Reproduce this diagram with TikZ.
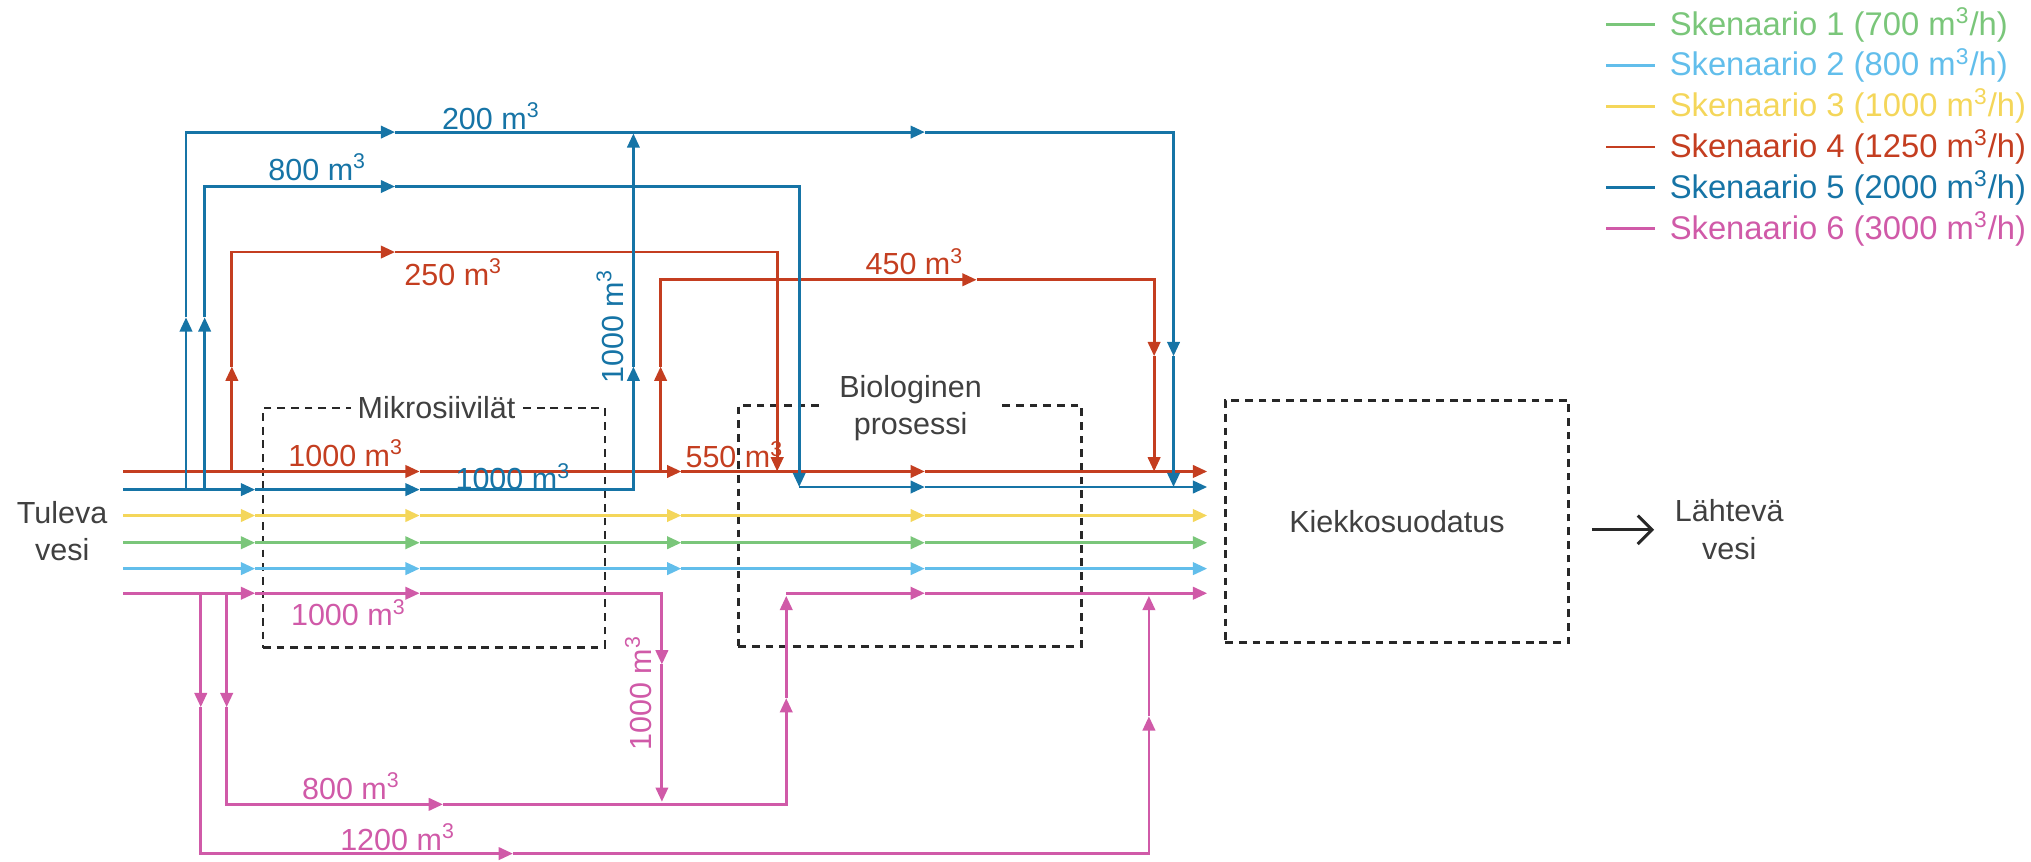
\documentclass[tikz,border=0pt]{standalone}
\usepackage{fontspec}
\setmainfont{Liberation Sans}
\usetikzlibrary{arrows.meta}

\definecolor{sk1}{RGB}{122,198,122}
\definecolor{sk2}{RGB}{98,190,235}
\definecolor{sk3}{RGB}{244,214,90}
\definecolor{sk4}{RGB}{196,62,32}
\definecolor{sk5}{RGB}{22,116,166}
\definecolor{sk6}{RGB}{208,90,168}
\definecolor{boxgray}{RGB}{40,40,40}
\definecolor{txtgray}{RGB}{64,64,64}
\newcommand\kuutio{m\textsuperscript{3}}

\begin{document}
\begin{tikzpicture}[x=0.02cm, y=-0.02cm, font=\fontsize{13.4}{16.5}\selectfont,
  fl/.style={line width=1.25pt, -{Triangle[length=2.2mm, width=1.9mm]}},
  bx/.style={draw=boxgray, line width=1.1pt, dash pattern=on 3.4pt off 2.6pt,
             inner sep=0pt},
  lab/.style={inner sep=1pt},
  ttl/.style={text=txtgray, align=center, inner sep=1pt},
  outar/.style={line width=1.3pt, boxgray, -{Straight Barb[length=2.2mm, width=4.4mm]}}]

\useasboundingbox (0,0) rectangle (1568,665);

\node[bx, minimum width=5.28cm, minimum height=3.7cm] (mikro) at (335,407.5) {};
\node[bx, minimum width=5.3cm, minimum height=3.72cm] (bio) at (702.5,406) {};
\node[bx, minimum width=5.3cm, minimum height=3.74cm, text=txtgray] (kiekko) at (1078.5,402.5) {Kiekkosuodatus};
\node[ttl] (tuleva) at (48,410) {Tuleva\\vesi};
\node[ttl] (lahteva) at (1335,409) {Lähtevä\\vesi};
\draw[outar, shorten <=0.34cm, shorten >=0.28cm] (kiekko.east |- lahteva) -- (lahteva);

% Skenaariot 1-3
\foreach \c/\y in {sk3/398, sk1/419, sk2/439}
  \foreach \a/\b in {95/197, 197/324, 324/526, 526/714, 714/932}
    \draw[fl, \c] (\a,\y) -- (\b,\y);

% Skenaario 4
\foreach \a/\b in {95/324, 324/526, 526/714, 714/932}
  \draw[fl, sk4] (\a,364) -- (\b,364);
\draw[fl, sk4] (179,364) -- (179,283);
\draw[fl, sk4] (179,283) -- (179,194.6) -- (305,194.6);
\draw[fl, sk4] (305,194.6) -- (600,194.6) -- (600,364);
\draw[fl, sk4] (510,364) -- (510,283);
\draw[fl, sk4] (510,283) -- (510,216) -- (754,216);
\draw[fl, sk4] (754,216) -- (891,216) -- (891,275);
\draw[fl, sk4] (891,275) -- (891,364);

% Skenaario 5
\foreach \a/\b in {95/197, 197/324}
  \draw[fl, sk5] (\a,378) -- (\b,378);
\draw[fl, sk5] (324,378) -- (489,378) -- (489,283);
\draw[fl, sk5] (489,283) -- (489,103);
\draw[fl, sk5] (143.6,378) -- (143.6,245);
\draw[fl, sk5] (143.6,245) -- (143.6,102) -- (305,102);
\draw[fl, sk5] (305,102) -- (714,102);
\draw[fl, sk5] (714,102) -- (906,102) -- (906,275);
\draw[fl, sk5] (906,275) -- (906,376);
\draw[fl, sk5] (158,378) -- (158,245);
\draw[fl, sk5] (158,245) -- (158,144) -- (305,144);
\draw[fl, sk5] (305,144) -- (617,144) -- (617,376);
\draw[fl, sk5] (617,376) -- (714,376);
\draw[fl, sk5] (714,376) -- (932,376);

% Skenaario 6
\foreach \a/\b in {95/197, 197/324}
  \draw[fl, sk6] (\a,458) -- (\b,458);
\draw[fl, sk6] (324,458) -- (511,458) -- (511,513);
\draw[fl, sk6] (511,513) -- (511,619);
\draw[fl, sk6] (155,458) -- (155,546);
\draw[fl, sk6] (155,546) -- (155,659) -- (396,659);
\draw[fl, sk6] (396,659) -- (887,659) -- (887,553);
\draw[fl, sk6] (887,553) -- (887,460);
\draw[fl, sk6] (175,458) -- (175,546);
\draw[fl, sk6] (175,546) -- (175,621) -- (342,621);
\draw[fl, sk6] (342,621) -- (607,621) -- (607,539);
\draw[fl, sk6] (607,539) -- (607,460);
\draw[fl, sk6] (607,458) -- (714,458);
\draw[fl, sk6] (714,458) -- (932,458);

\node[ttl, fill=white, inner xsep=3pt] (mikrot) at (337,315) {Mikrosiivilät};
\node[ttl, fill=white, inner xsep=0.25cm] (biot) at (703,315) {Biologinen\\prosessi};

\node[lab, text=sk5] (l200) at (379,90) {200 \kuutio};
\node[lab, text=sk5] (l800) at (245,129) {800 \kuutio};
\node[lab, text=sk4] (l250) at (350,210) {250 \kuutio};
\node[lab, text=sk4] (l450) at (706,202) {450 \kuutio};
\node[lab, text=sk5, rotate=90] (l1000v) at (471,252) {1000 \kuutio};
\node[lab, text=sk4] (l1000r) at (267,350) {1000 \kuutio};
\node[lab, text=sk5] (l1000b) at (396,368) {1000 \kuutio};
\node[lab, text=sk4] (l550) at (567,351) {550 \kuutio};
\node[lab, text=sk6] (l1000p) at (269,473) {1000 \kuutio};
\node[lab, text=sk6, rotate=90] (l1000pv) at (493,535) {1000 \kuutio};
\node[lab, text=sk6] (l800p) at (271,607) {800 \kuutio};
\node[lab, text=sk6] (l1200p) at (307,646) {1200 \kuutio};

\foreach \c/\t [count=\i] in {sk1/{Skenaario 1 (700 \kuutio/h)}, sk2/{Skenaario 2 (800 \kuutio/h)},
    sk3/{Skenaario 3 (1000 \kuutio/h)}, sk4/{Skenaario 4 (1250 \kuutio/h)},
    sk5/{Skenaario 5 (2000 \kuutio/h)}, sk6/{Skenaario 6 (3000 \kuutio/h)}} {
  \node[lab, anchor=west, text=\c, font=\fontsize{14.4}{17}\selectfont] (leg\i) at (1287,{19+31.5*(\i-1)}) {\t};
  \draw[\c, line width=1.2pt] ([xshift=-0.94cm]leg\i.west) -- ([xshift=-0.18cm]leg\i.west);
}
\end{tikzpicture}
\end{document}
